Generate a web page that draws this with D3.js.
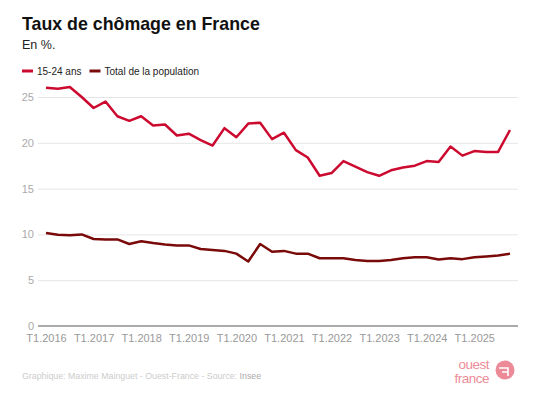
<!DOCTYPE html>
<html><head><meta charset="utf-8">
<script src="https://cdn.jsdelivr.net/npm/d3@7"></script>
<style>body{margin:0;background:#fff;font-family:Arial,"Liberation Sans",sans-serif}</style>
</head><body><svg id="c" width="535" height="393"></svg>
<script>
const years = [2016,2017,2018,2019,2020,2021,2022,2023,2024,2025];
const quarters = years.flatMap(y => [1,2,3,4].map(q => "T" + q + "." + y));
const youth = [26.0,25.9,26.1,25.0,23.8,24.5,22.9,22.4,22.9,21.9,22.0,20.8,21.0,20.3,19.7,21.6,20.6,22.1,22.2,20.4,21.1,19.2,18.4,16.4,16.7,18.0,17.4,16.8,16.4,17.0,17.3,17.5,18.0,17.9,19.6,18.6,19.1,19.0,19.0,21.4];
const total = [10.15,9.97,9.9,10.0,9.5,9.45,9.45,8.95,9.25,9.05,8.9,8.8,8.8,8.4,8.3,8.2,7.9,7.05,8.95,8.1,8.2,7.9,7.9,7.4,7.4,7.4,7.2,7.1,7.1,7.2,7.4,7.5,7.5,7.25,7.4,7.3,7.5,7.6,7.7,7.9];
const yTicks = [0,5,10,15,20,25];
const xTickLabels = years.map(y => "T1." + y);
const seriesNames = ["15-24 ans","Total de la population"];
const colors = ["#cc0a2f","#7a0a0a"];

const svg = d3.select("#c");
const x = d3.scalePoint().domain(quarters).range([46,510]);
const y = d3.scaleLinear().domain([0,25]).range([326,97]);

svg.append("text").attr("x",22).attr("y",30).attr("font-size",17.8).attr("font-weight","bold").attr("fill","#111").text("Taux de chômage en France");
svg.append("text").attr("x",22).attr("y",48.5).attr("font-size",12.5).attr("fill","#222").text("En %.");

// legend
let lx = 22;
seriesNames.forEach((n,i) => {
  svg.append("line").attr("x1",lx).attr("x2",lx+11).attr("y1",71).attr("y2",71).attr("stroke",colors[i]).attr("stroke-width",3);
  const t = svg.append("text").attr("x",lx+15).attr("y",74.5).attr("font-size",10).attr("fill","#222").text(n);
  lx += 15 + t.node().getComputedTextLength() + 8;
});

// grid
const yAxis = d3.axisLeft(y).tickValues(yTicks).tickSize(-480).tickPadding(5);
const gy = svg.append("g").attr("transform","translate(38,0)").call(yAxis);
gy.select(".domain").remove();
gy.selectAll(".tick line").attr("stroke","#e6e6e6").attr("stroke-width",1).filter(d=>d===0).remove();
gy.selectAll(".tick text").attr("fill","#aaa").attr("font-size",11).attr("font-family","Arial,'Liberation Sans',sans-serif").attr("x",-4);

// x axis
const xAxis = d3.axisBottom(x).tickValues(xTickLabels).tickSize(0).tickPadding(8);
const gx = svg.append("g").attr("transform","translate(0,326)").call(xAxis);
gx.select(".domain").remove();
gx.selectAll(".tick text").attr("fill","#999").attr("font-size",11).attr("font-family","Arial,'Liberation Sans',sans-serif");
svg.append("line").attr("x1",38).attr("x2",518).attr("y1",y(0)).attr("y2",y(0)).attr("stroke","#aaa").attr("stroke-width",2);

const line = d3.line().x((d,i)=>x(quarters[i])).y(d=>y(d));
[youth,total].forEach((s,i)=>{
  svg.append("path").datum(s).attr("d",line).attr("fill","none").attr("stroke",colors[i]).attr("stroke-width",2.5).attr("stroke-linejoin","round");
});

// footer
const ft = svg.append("text").attr("x",22).attr("y",379).attr("font-size",8.8).attr("fill","#ccc");
ft.append("tspan").text("Graphique: Maxime Mainguet - Ouest-France - Source: ");
ft.append("tspan").attr("fill","#aaa").text("Insee");

// logo
const lg = svg.append("g").attr("fill","#ec8b97");
lg.append("text").attr("x",489).attr("y",369).attr("text-anchor","end").attr("font-size",13.5).attr("letter-spacing",-0.5).text("ouest");
lg.append("text").attr("x",489).attr("y",383).attr("text-anchor","end").attr("font-size",13.5).attr("letter-spacing",-0.5).text("france");
lg.append("circle").attr("cx",505).attr("cy",370).attr("r",9.5);
svg.append("path").attr("d","M499,368 H508 V372 M502,372 H508 M508,372 V376").attr("stroke","#fff").attr("stroke-width",1.6).attr("fill","none");
</script></body></html>
